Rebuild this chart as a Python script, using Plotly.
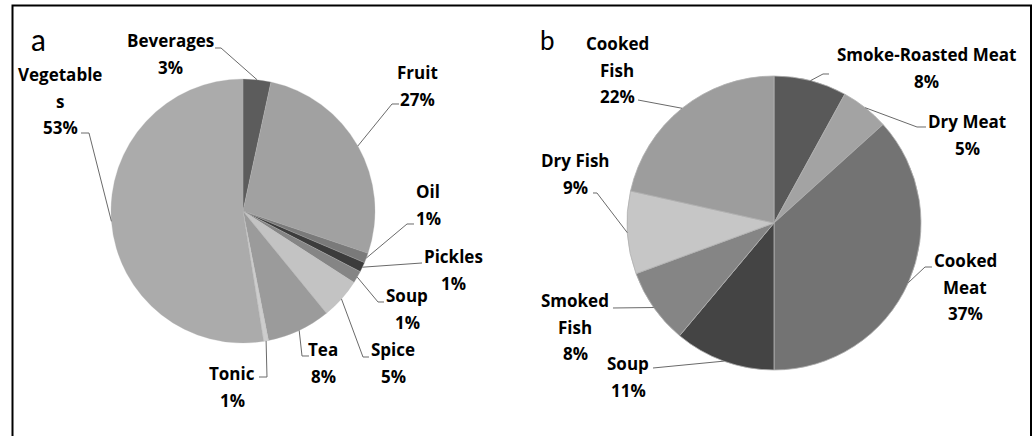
import math
import plotly.graph_objects as go

W, H = 1035, 436

# ---- data (panel a) ----
a_labels = ["Beverages", "Fruit", "Oil", "Pickles", "Soup", "Spice", "Tea", "Tonic", "Vegetables"]
a_values = [3.4, 26.8, 1.2, 1.2, 1.5, 5.0, 7.8, 0.6, 52.5]
a_pct = ["3%", "27%", "1%", "1%", "1%", "5%", "8%", "1%", "53%"]
a_colors = ["#5c5c5c", "#a1a1a1", "#7a7a7a", "#3c3c3c", "#858585", "#c3c3c3", "#9b9b9b", "#cdcdcd", "#ababab"]

# ---- data (panel b) ----
b_labels = ["Smoke-Roasted Meat", "Dry Meat", "Cooked Meat", "Soup", "Smoked Fish", "Dry Fish", "Cooked Fish"]
b_values = [8.0, 5.3, 36.7, 11.1, 8.3, 9.1, 21.5]
b_pct = ["8%", "5%", "37%", "11%", "8%", "9%", "22%"]
b_colors = ["#595959", "#a3a3a3", "#737373", "#444444", "#858585", "#c6c6c6", "#9d9d9d"]

# ---- layout / style (pixel positions) ----
A_C, A_R = (243, 211), 132
B_C, B_R = (774, 223), 147

# label line breaks, label centre, and leader-line elbow points (label side first)
a_style = {
    "Beverages": (["Beverages"], (170, 54), [(215, 48), (221, 48)]),
    "Fruit": (["Fruit"], (417, 86), [(399, 104), (392, 104)]),
    "Oil": (["Oil"], (428, 205), [(414, 224), (407, 224)]),
    "Pickles": (["Pickles"], (453, 270), [(422, 263)]),
    "Soup": (["Soup"], (407, 309), [(384, 302), (378, 302)]),
    "Spice": (["Spice"], (393, 363), [(369, 357), (363, 357)]),
    "Tea": (["Tea"], (323, 363), [(309, 356), (302, 356)]),
    "Tonic": (["Tonic"], (232, 387), [(259, 377), (267, 377)]),
    "Vegetables": (["Vegetable", "s"], (60, 101), [(81, 133), (89, 133)]),
}
b_style = {
    "Smoke-Roasted Meat": (["Smoke-Roasted Meat"], (926, 68), [(829, 74), (823, 74)]),
    "Dry Meat": (["Dry Meat"], (967, 135), [(926, 127), (917, 127)]),
    "Cooked Meat": (["Cooked", "Meat"], (965, 287), [(932, 267), (925, 267)]),
    "Soup": (["Soup"], (628, 377), [(653, 368)]),
    "Smoked Fish": (["Smoked", "Fish"], (575, 327), [(613, 308)]),
    "Dry Fish": (["Dry Fish"], (575, 174), [(593, 193), (597, 193)]),
    "Cooked Fish": (["Cooked", "Fish"], (617, 70), [(638, 100)]),
}

FONT = "Open Sans"
LINE_H = 26.5
FS = 17


def px(x):
    return x / W


def py(y):
    return 1 - y / H


def domain(c, r):
    return dict(x=[px(c[0] - r), px(c[0] + r)], y=[py(c[1] + r), py(c[1] - r)])


fig = go.Figure()
fig.add_trace(go.Pie(labels=a_labels, values=a_values, sort=False, direction="clockwise",
                     rotation=0, textinfo="none", hoverinfo="label+percent",
                     marker=dict(colors=a_colors, line=dict(color="#b5b5b5", width=0.3)),
                     domain=domain(A_C, A_R), showlegend=False))
fig.add_trace(go.Pie(labels=b_labels, values=b_values, sort=False, direction="clockwise",
                     rotation=0, textinfo="none", hoverinfo="label+percent",
                     marker=dict(colors=b_colors, line=dict(color="#b0b0b0", width=0.8)),
                     domain=domain(B_C, B_R), showlegend=False))

annotations = []
shapes = []


def add_labels(labels, values, pcts, style, center, radius):
    total = sum(values)
    cum = 0.0
    for lab, v, p in zip(labels, values, pcts):
        mid = (cum + v / 2) / total * 2 * math.pi
        cum += v
        ex = center[0] + radius * math.sin(mid)
        ey = center[1] - radius * math.cos(mid)
        lines, (cx, cy), elbow = style[lab]
        all_lines = lines + [p]
        n = len(all_lines)
        for i, t in enumerate(all_lines):
            yy = cy + (i - (n - 1) / 2) * LINE_H
            annotations.append(dict(x=px(cx), y=py(yy), xref="paper", yref="paper",
                                    text="<b>" + t + "</b>", showarrow=False,
                                    xanchor="center", yanchor="middle",
                                    font=dict(family=FONT, size=FS, color="black")))
        pts = elbow + [(ex, ey)]
        path = "M " + " L ".join(f"{px(x):.5f},{py(y):.5f}" for x, y in pts)
        shapes.append(dict(type="path", path=path, xref="paper", yref="paper",
                           line=dict(color="#6a6a6a", width=1)))


add_labels(a_labels, a_values, a_pct, a_style, A_C, A_R)
add_labels(b_labels, b_values, b_pct, b_style, B_C, B_R)

# panel letters
annotations.append(dict(x=px(38), y=py(39), xref="paper", yref="paper", text="a", showarrow=False,
                        xanchor="center", yanchor="middle",
                        font=dict(family="Lato", size=30, color="black")))
annotations.append(dict(x=px(547), y=py(40), xref="paper", yref="paper", text="b", showarrow=False,
                        xanchor="center", yanchor="middle",
                        font=dict(family="Lato", size=26, color="black")))

# frame
shapes.append(dict(type="rect", xref="paper", yref="paper", x0=px(12.5), x1=px(1031), y0=py(445), y1=py(5.5),
                   line=dict(color="black", width=2)))

fig.update_layout(width=W, height=H, margin=dict(l=0, r=0, t=0, b=0),
                  paper_bgcolor="white", plot_bgcolor="white",
                  annotations=annotations, shapes=shapes)
fig.write_html("out.html", config={"displayModeBar": False},
               post_script="document.body.style.margin='0';document.body.style.overflow='hidden';")
